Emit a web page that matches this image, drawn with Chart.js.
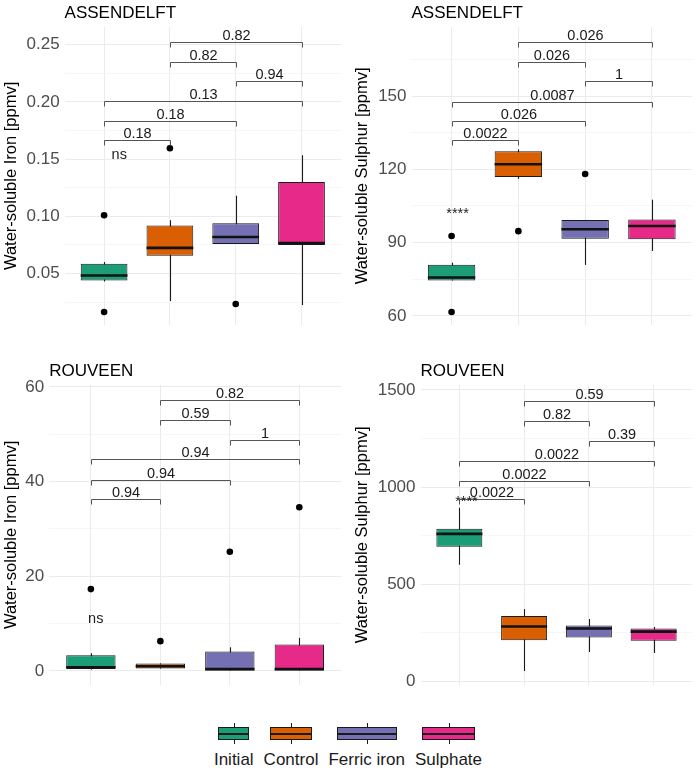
<!DOCTYPE html>
<html>
<head>
<meta charset="utf-8">
<script src="https://cdn.jsdelivr.net/npm/chart.js@4.4.1/dist/chart.umd.min.js"></script>
<style>
  body { margin: 0; background: #fff; font-family: "Liberation Sans", Arial, sans-serif; }
  #wrap { position: relative; width: 696px; height: 775px; overflow: hidden; }
  canvas { position: absolute; }
  #legend { position: absolute; left: 0; top: 723px; width: 696px; display: flex; justify-content: center; gap: 10px; }
  .item { display: flex; flex-direction: column; align-items: center; }
  .key { position: relative; width: 78%; height: 21px; }
  .key .box { position: absolute; left: 0; right: 0; top: 4px; height: 13px; box-sizing: border-box; border: 1px solid #1a1a1a; }
  .key .med { position: absolute; left: 0; right: 0; top: 9.5px; height: 2px; background: #1a1a1a; }
  .key .wt, .key .wb { position: absolute; left: 50%; width: 1px; height: 4px; background: #1a1a1a; }
  .key .wt { top: 0; }
  .key .wb { top: 17px; }
  .lab { font-size: 17px; line-height: 18px; color: #1a1a1a; margin-top: 7px; white-space: nowrap; }
</style>
</head>
<body>
<div id="wrap">
  <canvas id="c1" width="348" height="340" style="left:0;top:0"></canvas>
  <canvas id="c2" width="348" height="340" style="left:348px;top:0"></canvas>
  <canvas id="c3" width="348" height="360" style="left:0;top:340px"></canvas>
  <canvas id="c4" width="348" height="360" style="left:348px;top:340px"></canvas>
  <div id="legend"></div>
</div>
<script>
// groups and the comparisons shown by the brackets (bottom to top)
const groups = ['Initial', 'Control', 'Ferric iron', 'Sulphate'];
const fills = ['#1B9E77', '#D95F02', '#7570B3', '#E7298A'];
const pairs = [[0, 1], [0, 2], [0, 3], [2, 3], [1, 2], [1, 3]];

// Assendelft - iron: [lower whisker, q1, median, q3, upper whisker]
const feAssBoxes = [
    [0.043, 0.044, 0.0483, 0.0586, 0.060],
    [0.0259, 0.0655, 0.0724, 0.092, 0.0966],
    [0.0759, 0.0759, 0.0819, 0.094, 0.118],
    [0.0224, 0.075, 0.0767, 0.130, 0.1534]
];
const feAssOutliers = [[0.1009, 0.0164], [0.1595], [0.0233], []];
const feAssP = ['0.18', '0.18', '0.13', '0.94', '0.82', '0.82'];
const feAssBracketY = [0.1664, 0.1836, 0.2005, 0.2181, 0.2353, 0.2526];
const feAssTicks = [0.05, 0.10, 0.15, 0.20, 0.25];
const feAssTickLabels = ['0.05', '0.10', '0.15', '0.20', '0.25'];
const feAssMinor = [0.025, 0.075, 0.125, 0.175, 0.225];

// Assendelft - sulphur
const sAssBoxes = [
    [74.5, 74.5, 75.7, 80.9, 81.8],
    [116.1, 116.9, 122.1, 127.4, 128.2],
    [80.9, 91.6, 95.5, 99.3, 99.3],
    [86.6, 91.4, 96.8, 99.5, 107.6]
];
const sAssOutliers = [[92.7, 61.6], [94.7], [118.1], []];
const sAssP = ['0.0022', '0.026', '0.0087', '1', '0.026', '0.026'];
const sAssBracketY = [131.8, 139.9, 147.6, 156.1, 164.1, 172.2];
const sAssTicks = [60, 90, 120, 150];
const sAssTickLabels = ['60', '90', '120', '150'];
const sAssMinor = [75, 105, 135, 165];

// Rouveen - iron
const feRouBoxes = [
    [0.3, 0.4, 0.8, 3.3, 3.75],
    [0.5, 0.5, 1.0, 1.6, 1.6],
    [0.1, 0.1, 0.4, 4.1, 5.0],
    [0.1, 0.1, 0.4, 5.6, 7.0]
];
const feRouOutliers = [[17.3], [6.3], [25.2], [34.6]];
const feRouP = ['0.94', '0.94', '0.94', '1', '0.59', '0.82'];
const feRouBracketY = [36.3, 40.3, 44.7, 48.9, 53.0, 57.2];
const feRouTicks = [0, 20, 40, 60];
const feRouTickLabels = ['0', '20', '40', '60'];
const feRouMinor = [10, 30, 50];

// Rouveen - sulphur
const sRouBoxes = [
    [600, 693, 759, 786, 894],
    [53, 211, 282, 336, 372],
    [151, 226, 272, 288, 321],
    [146, 209, 256, 272, 280]
];
const sRouOutliers = [[], [], [], []];
const sRouP = ['0.0022', '0.0022', '0.0022', '0.39', '0.82', '0.59'];
const sRouBracketY = [936.5, 1033, 1134.5, 1236, 1340, 1441.6];
const sRouTicks = [0, 500, 1000, 1500];
const sRouTickLabels = ['0', '500', '1000', '1500'];
const sRouMinor = [250, 750, 1250];

const FONT = '"Liberation Sans", Arial, sans-serif';

const panels = [
    { id: 'c1', title: 'ASSENDELFT', yTitle: 'Water-soluble Iron [ppmv]',
      boxes: feAssBoxes, outliers: feAssOutliers, pvals: feAssP, bracketY: feAssBracketY,
      ticks: feAssTicks, tickLabels: feAssTickLabels, minor: feAssMinor,
      min: 0.00517, max: 0.2655, sig: 'ns', sigAt: [1.23, 0.1505],
      pad: { left: 1.6, top: 27, right: 7, bottom: 11 }, axisWidth: 63 },
    { id: 'c2', title: 'ASSENDELFT', yTitle: 'Water-soluble Sulphur [ppmv]',
      boxes: sAssBoxes, outliers: sAssOutliers, pvals: sAssP, bracketY: sAssBracketY,
      ticks: sAssTicks, tickLabels: sAssTickLabels, minor: sAssMinor,
      min: 56.37, max: 178.25, sig: '****', sigAt: [1.09, 100.2],
      pad: { left: 4.3, top: 27, right: 3.5, bottom: 11 }, axisWidth: 59.2 },
    { id: 'c3', title: 'ROUVEEN', yTitle: 'Water-soluble Iron [ppmv]',
      boxes: feRouBoxes, outliers: feRouOutliers, pvals: feRouP, bracketY: feRouBracketY,
      ticks: feRouTicks, tickLabels: feRouTickLabels, minor: feRouMinor,
      min: -2.92, max: 60.42, sig: 'ns', sigAt: [1.07, 10.1],
      pad: { left: 2, top: 45, right: 7, bottom: 11 }, axisWidth: 47.2 },
    { id: 'c4', title: 'ROUVEEN', yTitle: 'Water-soluble Sulphur [ppmv]',
      boxes: sRouBoxes, outliers: sRouOutliers, pvals: sRouP, bracketY: sRouBracketY,
      ticks: sRouTicks, tickLabels: sRouTickLabels, minor: sRouMinor,
      min: -17.8, max: 1525.4, sig: '****', sigAt: [1.11, 901],
      pad: { left: 4.3, top: 45, right: 3.5, bottom: 11 }, axisWidth: 68.2 }
];

// whiskers, medians, brackets and titles drawn through the chart's scales
function makeExtras(p) {
    return {
        id: 'boxExtras',
        beforeDatasetsDraw(chart) {
            const ctx = chart.ctx, xs = chart.scales.x, ys = chart.scales.y;
            ctx.save();
            ctx.strokeStyle = '#1a1a1a';
            ctx.lineWidth = 1.1;
            p.boxes.forEach((b, i) => {
                const px = Math.round(xs.getPixelForValue(i + 1)) + 0.5;
                ctx.beginPath();
                ctx.moveTo(px, ys.getPixelForValue(b[0]));
                ctx.lineTo(px, ys.getPixelForValue(b[4]));
                ctx.stroke();
            });
            ctx.restore();
        },
        afterDatasetsDraw(chart) {
            const ctx = chart.ctx, xs = chart.scales.x, ys = chart.scales.y;
            const meta = chart.getDatasetMeta(0);
            ctx.save();
            // medians
            ctx.strokeStyle = '#111';
            ctx.lineWidth = 2.6;
            p.boxes.forEach((b, i) => {
                const bar = meta.data[i];
                const py = ys.getPixelForValue(b[2]);
                ctx.beginPath();
                ctx.moveTo(bar.x - bar.width / 2, py);
                ctx.lineTo(bar.x + bar.width / 2, py);
                ctx.stroke();
            });
            // brackets
            ctx.strokeStyle = '#555';
            ctx.lineWidth = 1;
            ctx.fillStyle = '#1a1a1a';
            ctx.font = '14.5px ' + FONT;
            ctx.textAlign = 'center';
            ctx.textBaseline = 'alphabetic';
            pairs.forEach(([a, b], k) => {
                const x1 = Math.round(xs.getPixelForValue(a + 1)) + 0.5;
                const x2 = Math.round(xs.getPixelForValue(b + 1)) + 0.5;
                const py = Math.round(ys.getPixelForValue(p.bracketY[k])) + 0.5;
                ctx.beginPath();
                ctx.moveTo(x1, py + 5);
                ctx.lineTo(x1, py);
                ctx.lineTo(x2, py);
                ctx.lineTo(x2, py + 5);
                ctx.stroke();
                ctx.fillText(p.pvals[k], (x1 + x2) / 2, py - 3);
            });
            // overall test label
            ctx.fillStyle = '#222';
            ctx.fillText(p.sig, xs.getPixelForValue(p.sigAt[0]), ys.getPixelForValue(p.sigAt[1]));
            // panel title
            ctx.fillStyle = '#000';
            ctx.font = '17px ' + FONT;
            ctx.textAlign = 'left';
            ctx.fillText(p.title, chart.chartArea.left, chart.chartArea.top - 9);
            ctx.restore();
        }
    };
}

function buildPanel(p) {
    const majors = new Set(p.ticks);
    const allTicks = p.ticks.concat(p.minor).sort((a, b) => a - b);
    const boxData = p.boxes.map((b, i) => ({ x: i + 1, y: [b[1], b[3]] }));
    const outData = p.outliers.flatMap((arr, i) => arr.map(v => ({ x: i + 1, y: v })));

    new Chart(document.getElementById(p.id), {
        type: 'bar',
        data: {
            datasets: [
                {
                    type: 'bar',
                    data: boxData,
                    backgroundColor: fills,
                    borderColor: '#1a1a1a',
                    borderWidth: 1,
                    borderSkipped: false,
                    barPercentage: 0.71,
                    categoryPercentage: 1
                },
                {
                    type: 'scatter',
                    data: outData,
                    pointRadius: 3.3,
                    pointBackgroundColor: '#000',
                    pointBorderWidth: 0
                }
            ]
        },
        options: {
            responsive: false,
            animation: false,
            events: [],
            layout: { padding: p.pad },
            plugins: { legend: { display: false }, tooltip: { enabled: false } },
            scales: {
                x: {
                    type: 'linear',
                    min: 0.4,
                    max: 4.6,
                    offset: false,
                    afterBuildTicks: s => { s.ticks = [1, 2, 3, 4].map(v => ({ value: v })); },
                    afterFit: s => { s.height = 0; },
                    ticks: { display: false },
                    grid: { color: '#ebebeb', lineWidth: 1, drawTicks: false, offset: false },
                    border: { display: false }
                },
                y: {
                    type: 'linear',
                    min: p.min,
                    max: p.max,
                    afterBuildTicks: s => { s.ticks = allTicks.map(v => ({ value: v })); },
                    afterFit: s => { s.width = p.axisWidth; },
                    ticks: {
                        autoSkip: false,
                        padding: 5,
                        color: '#4d4d4d',
                        font: { family: FONT, size: 17 },
                        callback: v => majors.has(v) ? p.tickLabels[p.ticks.indexOf(v)] : ''
                    },
                    grid: {
                        drawTicks: false,
                        color: c => (c.tick && majors.has(c.tick.value)) ? '#ebebeb' : '#f4f4f4',
                        lineWidth: c => (c.tick && majors.has(c.tick.value)) ? 1 : 0.8
                    },
                    border: { display: false },
                    title: {
                        display: true,
                        text: p.yTitle,
                        color: '#000',
                        padding: 0,
                        font: { family: FONT, size: 16.5 }
                    }
                }
            }
        },
        plugins: [makeExtras(p)]
    });
}

panels.forEach(buildPanel);

// legend with boxplot keys
const legend = document.getElementById('legend');
groups.forEach((g, i) => {
    const item = document.createElement('div');
    item.className = 'item';
    item.innerHTML = '<div class="key"><div class="wt"></div><div class="box" style="background:' + fills[i] +
        '"></div><div class="med"></div><div class="wb"></div></div><div class="lab">' + g + '</div>';
    legend.appendChild(item);
});
</script>
</body>
</html>
